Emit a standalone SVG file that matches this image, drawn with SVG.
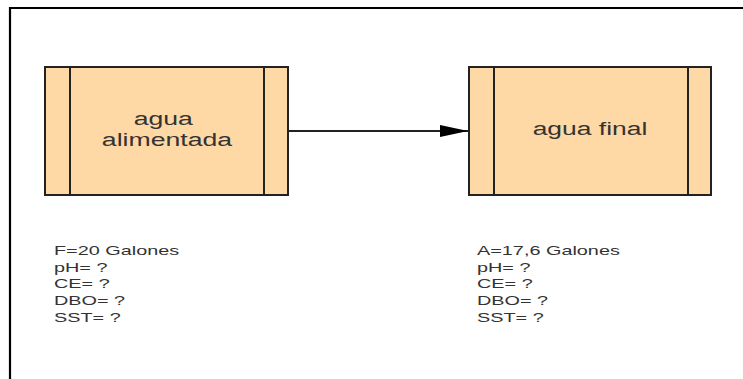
<svg xmlns="http://www.w3.org/2000/svg" width="743" height="379" viewBox="0 0 743 379">
  <defs>
    <marker id="arrow" markerWidth="28" markerHeight="12" refX="28" refY="6" orient="auto" markerUnits="userSpaceOnUse">
      <path d="M0,0 L28,6 L0,12 Z" fill="#000"/>
    </marker>
    <style>
      .box { fill: #FED8A5; stroke: #222; stroke-width: 2; }
      .bar { stroke: #222; stroke-width: 2; }
      .label { font-family: "Liberation Sans", Arial, sans-serif; font-size: 18px; fill: #333; }
      .data { font-family: "Liberation Sans", Arial, sans-serif; font-size: 13.5px; fill: #333; }
      .edge { stroke: #222; stroke-width: 2; fill: none; }
    </style>
  </defs>
  <rect width="743" height="379" fill="#fff"/>
  <!-- page frame (left and top edges) -->
  <path d="M10,379 V8 H743" fill="none" stroke="#000" stroke-width="2.2"/>

  <g id="node-agua-alimentada">
    <rect class="box" x="45" y="67" width="243" height="128"/>
    <line class="bar" x1="70" y1="67" x2="70" y2="195"/>
    <line class="bar" x1="264" y1="67" x2="264" y2="195"/>
    <text class="label" transform="translate(167,0) scale(1.48,1)" text-anchor="middle">
      <tspan x="0" y="125">agua</tspan>
      <tspan x="0" y="146">alimentada</tspan>
    </text>
  </g>

  <g id="node-agua-final">
    <rect class="box" x="469" y="67" width="242" height="128"/>
    <line class="bar" x1="494" y1="67" x2="494" y2="195"/>
    <line class="bar" x1="688" y1="67" x2="688" y2="195"/>
    <text class="label" transform="translate(590,0) scale(1.47,1)" text-anchor="middle" x="0" y="135">agua final</text>
  </g>

  <g id="connectors">
    <line class="edge" x1="289" y1="131" x2="468" y2="131" marker-end="url(#arrow)"/>
  </g>

  <g id="data-feed">
    <text class="data" transform="translate(54,0) scale(1.47,1)">
      <tspan x="0" y="255">F=20 Galones</tspan>
      <tspan x="0" y="271.7">pH= ?</tspan>
      <tspan x="0" y="288.5">CE= ?</tspan>
      <tspan x="0" y="305.2">DBO= ?</tspan>
      <tspan x="0" y="322">SST= ?</tspan>
    </text>
  </g>

  <g id="data-final">
    <text class="data" transform="translate(477,0) scale(1.47,1)">
      <tspan x="0" y="255">A=17,6 Galones</tspan>
      <tspan x="0" y="271.7">pH= ?</tspan>
      <tspan x="0" y="288.5">CE= ?</tspan>
      <tspan x="0" y="305.2">DBO= ?</tspan>
      <tspan x="0" y="322">SST= ?</tspan>
    </text>
  </g>
</svg>
